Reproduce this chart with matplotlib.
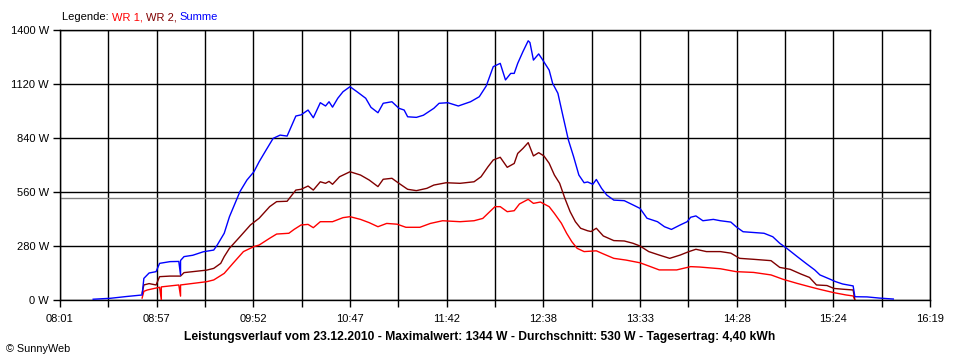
import matplotlib
matplotlib.use("Agg")
import matplotlib.pyplot as plt
import numpy as np

plt.rcParams['font.family'] = ['Liberation Sans', 'DejaVu Sans']

# Summe (blue)
sum_t = ["08:20", "08:30", "08:39", "08:48", "08:49", "08:52", "08:56", "08:58", "09:04", "09:09",
         "09:10", "09:10", "09:12", "09:17", "09:23", "09:29", "09:31", "09:35", "09:38", "09:44",
         "09:48", "09:52", "09:55", "09:59", "10:03", "10:07", "10:11", "10:16", "10:19", "10:23",
         "10:26", "10:30", "10:33", "10:35", "10:37", "10:40", "10:43", "10:47", "10:51", "10:56",
         "10:59", "11:03", "11:06", "11:11", "11:15", "11:18", "11:20", "11:25", "11:29", "11:35",
         "11:38", "11:43", "11:49", "11:56", "12:01", "12:05", "12:09", "12:13", "12:16", "12:19",
         "12:21", "12:23", "12:26", "12:29", "12:30", "12:32", "12:35", "12:37", "12:41", "12:43",
         "12:46", "12:49", "12:52", "12:55", "12:58", "13:01", "13:03", "13:06", "13:08", "13:11",
         "13:14", "13:18", "13:24", "13:29", "13:33", "13:37", "13:43", "13:47", "13:51", "13:56",
         "14:00", "14:02", "14:05", "14:09", "14:15", "14:19", "14:25", "14:28", "14:32", "14:44",
         "14:49", "14:53", "14:57", "15:03", "15:08", "15:13", "15:16", "15:22", "15:25", "15:29",
         "15:35", "15:36", "15:43", "15:50", "15:58"]
sum_w = [4, 9, 18, 26, 112, 140, 147, 190, 199, 200,
         130, 205, 225, 232, 250, 259, 285, 346, 432, 562,
         622, 665, 717, 778, 838, 855, 850, 954, 960, 985,
         945, 1023, 1006, 1028, 1000, 1046, 1080, 1106, 1080, 1046,
         999, 971, 1020, 1028, 994, 985, 950, 947, 958, 994,
         1020, 1023, 1006, 1028, 1054, 1110, 1210, 1227, 1141, 1175,
         1175, 1227, 1288, 1344, 1335, 1244, 1276, 1249, 1192, 1123,
         1072, 950, 830, 743, 648, 608, 612, 600, 625, 579,
         544, 518, 515, 493, 475, 424, 406, 380, 366, 389,
         406, 429, 436, 411, 418, 411, 404, 380, 354, 346,
         328, 294, 268, 225, 190, 156, 130, 107, 95, 83,
         73, 17, 16, 10, 5]

# WR 2 (dark red)
wr2_t = ["08:48", "08:49", "08:52", "08:56", "08:58", "09:04", "09:10", "09:12", "09:17", "09:25",
         "09:29", "09:33", "09:35", "09:38", "09:44", "09:50", "09:55", "10:01", "10:05", "10:11",
         "10:16", "10:19", "10:23", "10:26", "10:30", "10:33", "10:35", "10:37", "10:41", "10:47",
         "10:53", "10:58", "11:03", "11:06", "11:11", "11:15", "11:20", "11:25", "11:31", "11:35",
         "11:42", "11:50", "11:58", "12:02", "12:06", "12:09", "12:13", "12:17", "12:21", "12:23",
         "12:26", "12:29", "12:32", "12:35", "12:38", "12:41", "12:44", "12:47", "12:50", "12:53",
         "12:56", "12:59", "13:03", "13:05", "13:08", "13:12", "13:18", "13:24", "13:29", "13:33",
         "13:38", "13:44", "13:50", "13:56", "14:01", "14:05", "14:11", "14:19", "14:25", "14:30",
         "14:38", "14:48", "14:53", "14:59", "15:05", "15:10", "15:14", "15:20", "15:24", "15:29",
         "15:35", "15:36"]
wr2_w = [35, 78, 85, 78, 121, 124, 124, 142, 147, 155,
         164, 190, 225, 268, 328, 389, 424, 484, 510, 512,
         570, 574, 591, 570, 613, 605, 615, 600, 639, 665,
         648, 622, 588, 626, 631, 605, 574, 567, 579, 596,
         608, 605, 613, 639, 691, 726, 740, 688, 708, 760,
         786, 816, 747, 764, 747, 709, 648, 605, 527, 458,
         406, 372, 359, 355, 372, 332, 308, 306, 294, 280,
         251, 233, 216, 233, 251, 263, 251, 251, 243, 216,
         211, 204, 169, 159, 135, 117, 78, 75, 60, 56,
         52, 0]

# WR 1 (red)
wr1_t = ["08:48", "08:49", "08:51", "08:58", "08:59", "08:59", "09:09", "09:10", "09:10", "09:25",
         "09:29", "09:35", "09:40", "09:46", "09:52", "09:55", "10:01", "10:05", "10:12", "10:15",
         "10:19", "10:23", "10:26", "10:30", "10:37", "10:43", "10:47", "10:53", "10:58", "11:03",
         "11:08", "11:14", "11:19", "11:27", "11:33", "11:40", "11:50", "11:58", "12:03", "12:07",
         "12:10", "12:13", "12:17", "12:21", "12:24", "12:29", "12:32", "12:36", "12:41", "12:44",
         "12:48", "12:51", "12:54", "12:57", "13:01", "13:08", "13:12", "13:18", "13:25", "13:33",
         "13:39", "13:44", "13:54", "14:02", "14:07", "14:19", "14:28", "14:38", "14:48", "14:55",
         "15:03", "15:10", "15:16", "15:24", "15:31", "15:35", "15:36"]
wr1_w = [10, 45, 52, 66, 0, 68, 78, 20, 78, 95,
         104, 138, 190, 251, 277, 285, 320, 342, 346, 366,
         389, 392, 375, 406, 406, 427, 432, 418, 401, 380,
         397, 393, 377, 377, 397, 411, 406, 411, 423, 458,
         484, 484, 458, 463, 498, 522, 501, 508, 484, 449,
         398, 346, 302, 268, 251, 255, 239, 216, 207, 193,
         173, 156, 156, 173, 171, 162, 147, 143, 130, 107,
         86, 69, 55, 38, 26, 21, 0]

mean_w = 530
tick_labels = ["08:01", "08:57", "09:52", "10:47", "11:42", "12:38", "13:33", "14:28", "15:24", "16:19"]
title = "Leistungsverlauf vom 23.12.2010 - Maximalwert: 1344 W - Durchschnitt: 530 W - Tagesertrag: 4,40 kWh"


def to_min(ts):
    return np.array([int(s[:2]) * 60 + int(s[3:]) for s in ts])


fig = plt.figure(figsize=(9.6, 3.6), dpi=100)
ax = fig.add_axes([60 / 960, 60 / 360, 870 / 960, 270 / 360])

t0, t1 = 481, 979
ax.set_xlim(t0, t1)
ax.set_ylim(0, 1400)

xt = np.linspace(t0, t1, 19)
ax.set_xticks(xt)
ax.set_xticklabels([tick_labels[i // 2] if i % 2 == 0 else "" for i in range(19)])
yt = np.arange(0, 1401, 280)
ax.set_yticks(yt)
ax.set_yticklabels([f"{v} W" for v in yt])
ax.tick_params(axis='both', length=5, width=1, color='black', labelsize=8, pad=3)
ax.tick_params(axis='x', pad=5)

ax.grid(True, color='black', linewidth=1)
ax.set_axisbelow(True)
for s in ax.spines.values():
    s.set_color('black')
    s.set_linewidth(1)

ax.axhline(mean_w, color='#808080', linewidth=1, zorder=1.5)

ax.plot(to_min(wr1_t), wr1_w, color='#ff0000', linewidth=1.0, zorder=3)
ax.plot(to_min(wr2_t), wr2_w, color='#800000', linewidth=1.0, zorder=3)
ax.plot(to_min(sum_t), sum_w, color='#0000ff', linewidth=1.0, zorder=3)

# legend line at top
x = 62 / 960
y = 1 - 17 / 360
parts = [("Legende: ", 'black'), ("WR 1, ", '#ff0000'), ("WR 2, ", '#800000'), ("Summe", '#0000ff')]
r = fig.canvas.get_renderer()
for txt, col in parts:
    t = fig.text(x, y, txt, color=col, fontsize=8, va='center', ha='left')
    bb = t.get_window_extent(renderer=r)
    x += bb.width / 960

fig.text(480 / 960, 1 - 337 / 360, title, fontsize=8.7, fontweight='bold', ha='center', va='center')
fig.text(6 / 960, 1 - 349 / 360, "\u00a9 SunnyWeb", fontsize=7.8, ha='left', va='center')

fig.savefig("out.png", dpi=100, facecolor='white')
